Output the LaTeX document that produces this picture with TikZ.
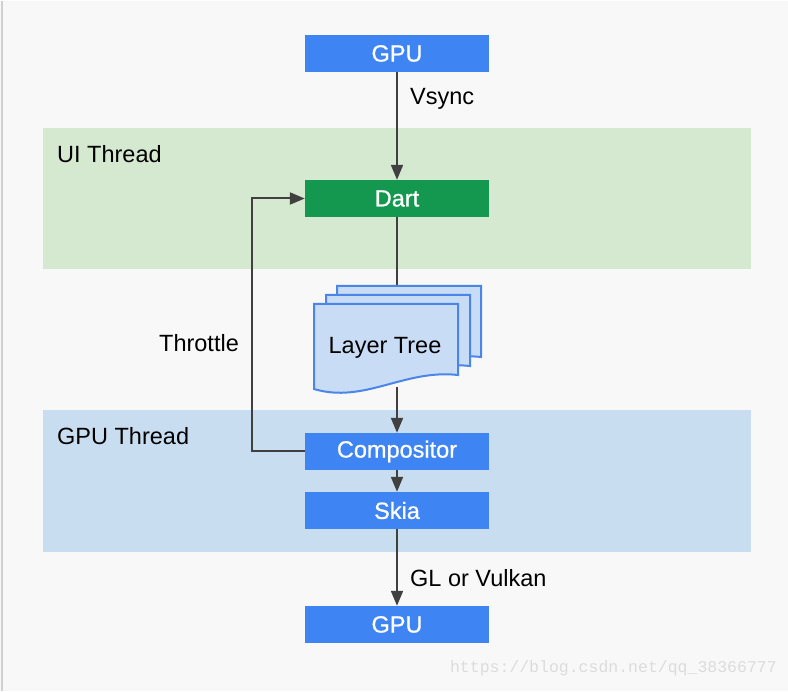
\documentclass[tikz,border=0pt]{standalone}
\usepackage{fontspec}
\setmainfont{Liberation Sans}
\newfontfamily\boxfont[FakeBold=0.8]{Liberation Sans}
\newfontfamily\wmfont{Liberation Mono}
\usetikzlibrary{arrows.meta}
\definecolor{bgc}{RGB}{248,248,248}
\definecolor{boxblue}{RGB}{63,132,243}
\definecolor{dartgreen}{RGB}{20,152,80}
\definecolor{bandgreen}{RGB}{213,232,208}
\definecolor{bandblue}{RGB}{201,221,240}
\definecolor{docfill}{RGB}{201,220,245}
\definecolor{docline}{RGB}{74,134,232}
\definecolor{conn}{RGB}{64,64,64}
\definecolor{wmgrey}{RGB}{220,220,220}
\tikzset{
  txt/.style={font=\fontsize{23.5}{28}\selectfont},
  boxnode/.style={font=\boxfont\fontsize{23.5}{28}\selectfont, minimum width=184pt, minimum height=37pt, inner sep=0pt, text=white, fill=boxblue},
  dartnode/.style={boxnode, fill=dartgreen},
  conline/.style={draw=conn, line width=2pt},
  conarrow/.style={conline, -{Triangle[length=15pt,width=12pt]}},
  docsheet/.style={fill=docfill, draw=docline, line width=2pt, line join=miter},
  lbl/.style={txt, text=black, inner sep=0pt}
}
\newcommand\docsheetat[2]{%
  \path[docsheet] (#1,#2) -- ++(144,0) -- ++(0,71)
    .. controls ++(-54,-6) and ++(50,15) .. ++(-144,14) -- cycle;}
\begin{document}
\begin{tikzpicture}[x=1pt,y=-1pt]
\fill[bgc] (0,0) rectangle (788,690);
\draw[line width=2pt, draw={rgb,255:red,208;green,208;blue,208}] (1.5,0) -- (1.5,690);
\useasboundingbox (0,0) rectangle (788,690);
% bands
\fill[bandgreen] (43,127) rectangle (751,268);
\fill[bandblue] (43,409) rectangle (751,551);
\node[lbl, anchor=west] (uit) at (57,153) {UI Thread};
\node[lbl, anchor=west] (gput) at (57,435) {GPU Thread};
% boxes
\node[boxnode] (gpu1) at (397,52.5) {GPU};
\node[dartnode] (dart) at (397,197.5) {Dart};
\node[boxnode] (comp) at (397,450.5) {Compositor};
\node[boxnode] (skia) at (397,509.5) {Skia};
\node[boxnode] (gpu2) at (397,623.5) {GPU};
% layer tree
\coordinate (lttop) at (397,285);
\coordinate (ltbot) at (397,386);
\draw[conline] (dart.south) -- (lttop);
\docsheetat{337}{285}
\docsheetat{326}{294}
\docsheetat{314}{303}
\node[lbl] (lt) at (385,347) {Layer Tree};
% connectors
\draw[conarrow] (gpu1.south) -- (dart.north);
\node[lbl, anchor=west] (vs) at (410,98) {Vsync};
\draw[conarrow] (ltbot) -- (comp.north);
\draw[conarrow] (comp.south) -- (skia.north);
\draw[conarrow] (skia.south) -- (gpu2.north);
\node[lbl, anchor=west] (glv) at (410,577) {GL or Vulkan};
\coordinate (thb) at (252,450.5);
\coordinate (tht) at (252,197.5);
\draw[conarrow] (comp.west) -- (thb) -- (tht) -- (dart.west);
\node[lbl] (thr) at (199,342) {Throttle};
% watermark
\node[inner sep=0pt, anchor=east, text=wmgrey, font=\wmfont\fontsize{16.5}{20}\selectfont] (wm) at (777,667) {https://blog.csdn.net/qq\_38366777};
\end{tikzpicture}
\end{document}
